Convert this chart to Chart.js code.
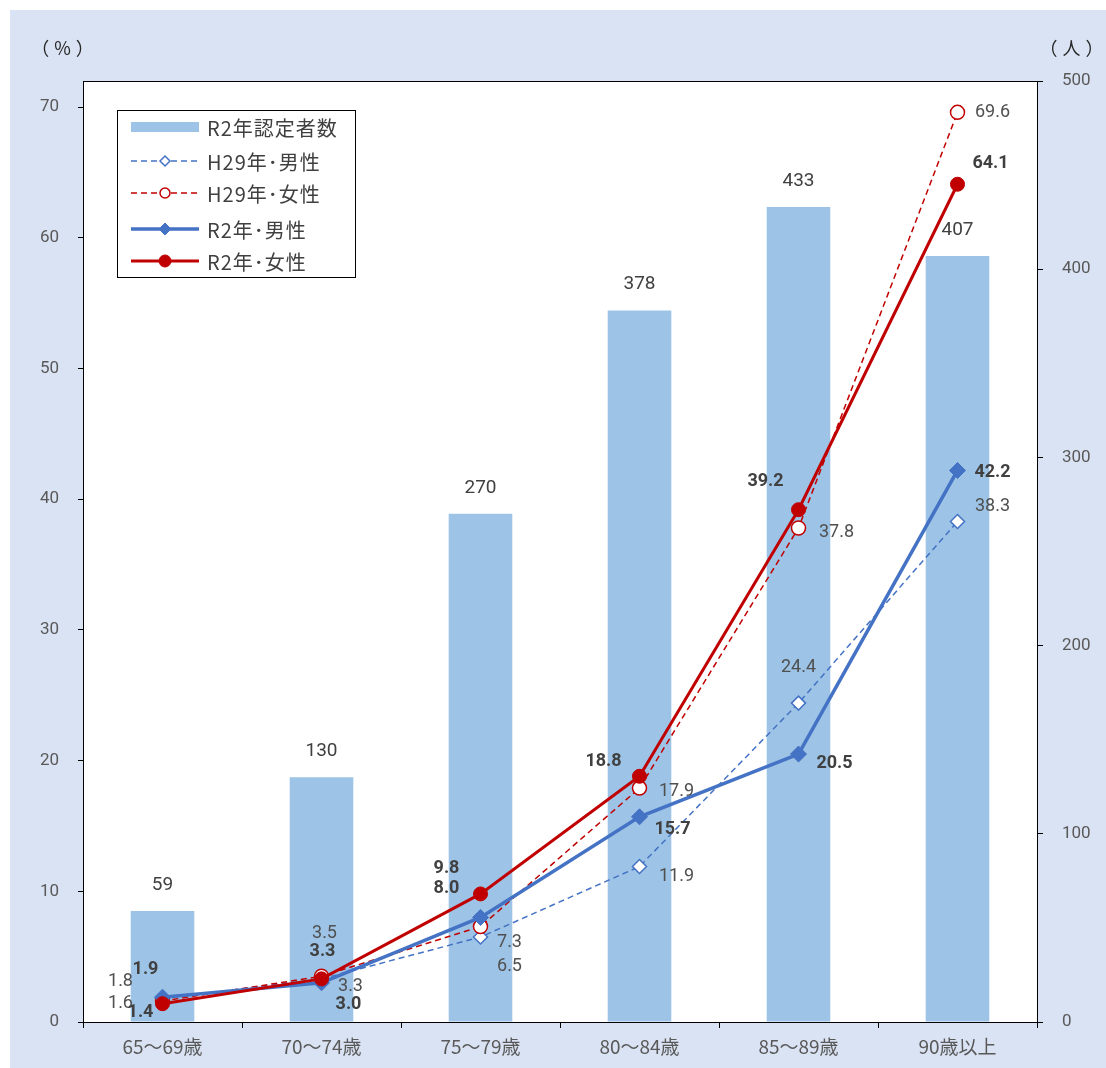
<!DOCTYPE html>
<html>
<head>
<meta charset="utf-8">
<script src="https://cdn.jsdelivr.net/npm/chart.js@4"></script>
<style>
  body { margin: 0; background: #fff; }
  #wrap { position: absolute; left: 10px; top: 10px; width: 1096px; height: 1058px; background: #dae3f3; }
</style>
</head>
<body>
<div id="wrap"><canvas id="chart"></canvas></div>
<script>
// data
const categories = ['65〜69歳', '70〜74歳', '75〜79歳', '80〜84歳', '85〜89歳', '90歳以上'];
const certifiedR2 = [59, 130, 270, 378, 433, 407];     // 人 (right axis)
const maleH29 = [1.8, 3.3, 6.5, 11.9, 24.4, 38.3];     // %
const femaleH29 = [1.6, 3.5, 7.3, 17.9, 37.8, 69.6];
const maleR2 = [1.9, 3.0, 8.0, 15.7, 20.5, 42.2];
const femaleR2 = [1.4, 3.3, 9.8, 18.8, 39.2, 64.1];

// hand placed label offsets (px from the point), like the original
const labelOffsets = {
    maleH29:   [[-42, -17], [29, 8], [29, 29], [37, 10], [0, -36], [35, -15]],
    femaleH29: [[-42, 2], [3, -43], [29, 16], [37, 3], [38, 5], [35, 0]],
    maleR2:    [[-17, -28], [27, 22], [-34, -29], [33, 13], [36, 9], [35, 2]],
    femaleR2:  [[-22, 9], [1, -27], [-34, -25], [-36, -15], [-33, -28], [33, -21]]
};

const FONT = "Roboto, 'Noto Sans CJK JP', sans-serif";
const JP = "'Noto Sans CJK JP', sans-serif";
const BLUE = '#4472c4';
const RED = '#c00000';

const extras = {
    id: 'extras',
    beforeDatasetsDraw(chart) {
        // white plot area
        const a = chart.chartArea;
        chart.ctx.save();
        chart.ctx.fillStyle = '#ffffff';
        chart.ctx.fillRect(a.left, a.top, a.right - a.left, a.bottom - a.top);
        chart.ctx.restore();
    },
    afterDatasetsDraw(chart) {
        const ctx = chart.ctx;
        const area = chart.chartArea;
        ctx.save();

        // frame round the plot area
        ctx.strokeStyle = '#000';
        ctx.lineWidth = 1;
        ctx.strokeRect(Math.round(area.left) + 0.5, Math.round(area.top) + 0.5,
            Math.round(area.right - area.left), Math.round(area.bottom - area.top));

        // bar value labels
        ctx.fillStyle = '#404040';
        ctx.font = '19px ' + FONT;
        ctx.textAlign = 'center';
        ctx.textBaseline = 'middle';
        chart.getDatasetMeta(0).data.forEach((bar, i) => {
            ctx.fillText(certifiedR2[i], bar.x, bar.y - 26);
        });

        // line value labels
        chart.data.datasets.forEach((ds, di) => {
            if (!ds.key) return;
            const meta = chart.getDatasetMeta(di);
            ctx.font = (ds.bold ? 'bold ' : '') + '18px ' + FONT;
            ctx.fillStyle = ds.bold ? '#404040' : '#505050';
            meta.data.forEach((pt, i) => {
                const off = labelOffsets[ds.key][i];
                ctx.fillText(ds.data[i].toFixed(1), pt.x + off[0], pt.y + off[1]);
            });
        });

        // axis unit titles
        ctx.fillStyle = '#262626';
        ctx.font = '18px ' + JP;
        ctx.letterSpacing = '5px';
        ctx.fillText('（%）', 55, 38);
        ctx.fillText('（人）', 1064, 38);
        ctx.letterSpacing = '0px';

        // legend box
        const lx = 107, ly = 100, lw = 238, lh = 167;
        ctx.fillStyle = '#fff';
        ctx.fillRect(lx, ly, lw, lh);
        ctx.strokeStyle = '#000';
        ctx.strokeRect(lx + 0.5, ly + 0.5, lw, lh);
        const rowY = [117, 151, 183, 219, 251];
        chart.data.datasets.forEach((ds, i) => {
            const y = rowY[i];
            const x0 = 121, x1 = 189, xm = 155;
            if (ds.type === 'bar') {
                ctx.fillStyle = ds.backgroundColor;
                ctx.fillRect(x0, y - 5, x1 - x0, 10);
            } else {
                ctx.strokeStyle = ds.borderColor;
                ctx.lineWidth = ds.borderWidth;
                ctx.setLineDash(ds.borderDash || []);
                ctx.beginPath();
                ctx.moveTo(x0, y);
                ctx.lineTo(x1, y);
                ctx.stroke();
                ctx.setLineDash([]);
                ctx.fillStyle = ds.pointBackgroundColor;
                ctx.strokeStyle = ds.borderColor;
                ctx.lineWidth = ds.pointBorderWidth;
                const r = ds.legendRadius;
                ctx.beginPath();
                if (ds.pointStyle === 'rectRot') {
                    ctx.moveTo(xm, y - r); ctx.lineTo(xm + r, y);
                    ctx.lineTo(xm, y + r); ctx.lineTo(xm - r, y);
                    ctx.closePath();
                } else {
                    ctx.arc(xm, y, r, 0, Math.PI * 2);
                }
                ctx.fill();
                ctx.stroke();
            }
            ctx.fillStyle = '#404040';
            ctx.font = '20px ' + JP;
            ctx.letterSpacing = '1px';
            ctx.textAlign = 'left';
            ctx.fillText(ds.label, 197, y + 1);
            ctx.letterSpacing = '0px';
        });
        ctx.restore();
    }
};

const ctx = document.getElementById('chart').getContext('2d');
const chart = new Chart(ctx, {
    type: 'bar',
    data: {
        labels: categories,
        datasets: [{
            type: 'bar',
            label: 'R2年認定者数',
            data: certifiedR2,
            yAxisID: 'y1',
            backgroundColor: '#9dc3e6',
            categoryPercentage: 1,
            barPercentage: 0.4,
            order: 10
        }, {
            type: 'line',
            key: 'maleH29',
            label: 'H29年･男性',
            data: maleH29,
            yAxisID: 'y',
            borderColor: BLUE,
            borderWidth: 1.5,
            borderDash: [6, 4],
            pointStyle: 'rectRot',
            pointRadius: 7,
            legendRadius: 5,
            pointBackgroundColor: '#fff',
            pointBorderColor: BLUE,
            pointBorderWidth: 1.5,
            order: 4
        }, {
            type: 'line',
            key: 'femaleH29',
            label: 'H29年･女性',
            data: femaleH29,
            yAxisID: 'y',
            borderColor: RED,
            borderWidth: 1.5,
            borderDash: [6, 4],
            pointStyle: 'circle',
            pointRadius: 7,
            legendRadius: 5,
            pointBackgroundColor: '#fff',
            pointBorderColor: RED,
            pointBorderWidth: 1.5,
            order: 3
        }, {
            type: 'line',
            key: 'maleR2',
            bold: true,
            label: 'R2年･男性',
            data: maleR2,
            yAxisID: 'y',
            borderColor: BLUE,
            borderWidth: 3.5,
            pointStyle: 'rectRot',
            pointRadius: 8,
            legendRadius: 6,
            pointBackgroundColor: BLUE,
            pointBorderColor: BLUE,
            pointBorderWidth: 1,
            order: 2
        }, {
            type: 'line',
            key: 'femaleR2',
            bold: true,
            label: 'R2年･女性',
            data: femaleR2,
            yAxisID: 'y',
            borderColor: RED,
            borderWidth: 3,
            pointStyle: 'circle',
            pointRadius: 7,
            legendRadius: 6,
            pointBackgroundColor: RED,
            pointBorderColor: RED,
            pointBorderWidth: 1,
            order: 1
        }]
    },
    options: {
        responsive: true,
        maintainAspectRatio: false,
        animation: false,
        layout: { padding: { top: 71, left: 0, right: 0, bottom: 0 } },
        plugins: {
            legend: { display: false },
            tooltip: { enabled: false }
        },
        scales: {
            x: {
                offset: true,
                grid: { offset: true, drawOnChartArea: false, drawTicks: true, tickLength: 6, color: '#000' },
                border: { display: true, color: '#000' },
                ticks: { color: '#595959', font: { size: 19, family: JP }, padding: 7, maxRotation: 0 },
                afterFit(scale) { scale.height = 46; }
            },
            y: {
                position: 'left',
                min: 0,
                max: 72,
                ticks: { stepSize: 10, includeBounds: false, color: '#595959', font: { size: 17, family: FONT }, padding: 19 },
                grid: { drawOnChartArea: false, drawTicks: true, tickLength: 5, color: '#000' },
                border: { display: true, color: '#000' },
                afterFit(scale) { scale.width = 73; }
            },
            y1: {
                position: 'right',
                min: 0,
                max: 500,
                ticks: { stepSize: 100, color: '#595959', font: { size: 17, family: FONT }, padding: 19 },
                grid: { drawOnChartArea: false, drawTicks: true, tickLength: 6, color: '#000' },
                border: { display: true, color: '#000' },
                afterFit(scale) { scale.width = 69; }
            }
        }
    },
    plugins: [extras]
});
</script>
</body>
</html>
